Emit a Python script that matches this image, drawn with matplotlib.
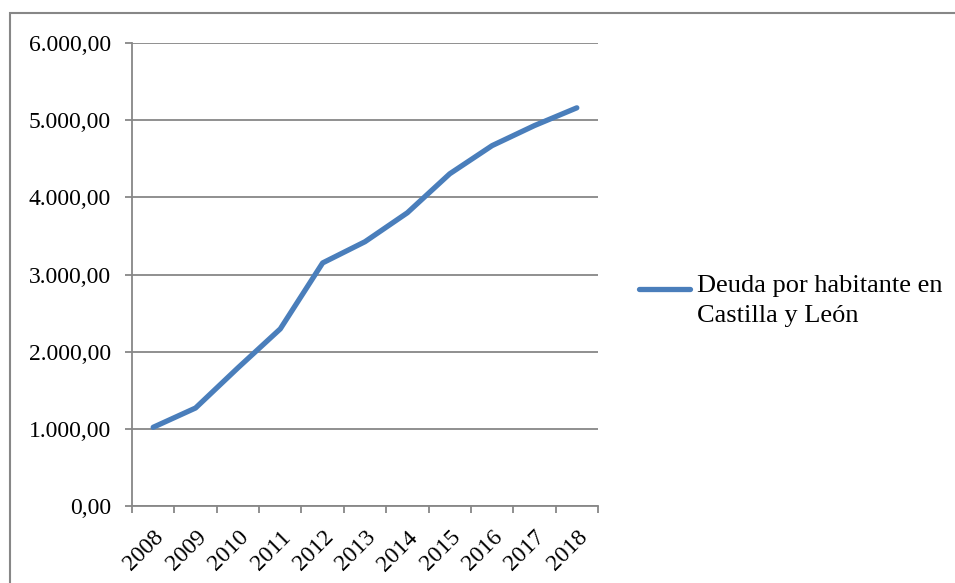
import matplotlib
matplotlib.use("Agg")
import matplotlib.pyplot as plt
import numpy as np
from matplotlib.lines import Line2D
from matplotlib.patches import Rectangle
from matplotlib.ticker import FuncFormatter, FixedLocator
from matplotlib.transforms import ScaledTranslation

plt.rcParams['font.family'] = ['Liberation Serif', 'DejaVu Serif']

# Data
years = ['2008', '2009', '2010', '2011', '2012', '2013', '2014', '2015', '2016', '2017', '2018']
deuda = [1020, 1270, 1790, 2295, 3150, 3425, 3800, 4305, 4670, 4930, 5160]
serie_label = 'Deuda por habitante en\nCastilla y León'

# Style
line_color = '#4a7ebb'
grid_color = '#878787'
fs = 17
fs_leg = 19

def es_fmt(v, pos):
    s = f"{v:,.2f}"
    return s.replace(',', 'X').replace('.', ',').replace('X', '.')

fig = plt.figure(figsize=(9.55, 5.83), dpi=100)
ax = fig.add_axes([132/955, 1 - 506/583, 466/955, 463/583])

x = np.arange(len(years))
ax.plot(x, deuda, color=line_color, lw=3.8, solid_capstyle='round', solid_joinstyle='round')

ax.set_xlim(-0.5, len(years) - 0.5)
ax.set_ylim(0, 6000)
ax.set_yticks(np.arange(0, 6001, 1000))
ax.yaxis.set_major_formatter(FuncFormatter(es_fmt))
ax.yaxis.grid(True, color=grid_color, lw=1.3)
ax.set_axisbelow(True)

ax.set_xticks(x)
ax.set_xticklabels(years, rotation=45, ha='right', rotation_mode='anchor')
shift = ScaledTranslation(-5/72, 0, fig.dpi_scale_trans)
for lbl in ax.get_xticklabels():
    lbl.set_transform(lbl.get_transform() + shift)
ax.xaxis.set_minor_locator(FixedLocator(np.arange(-0.5, len(years), 1)))
ax.tick_params(axis='x', which='major', length=0, pad=15, labelsize=fs)
ax.tick_params(axis='x', which='minor', length=5, width=1.3, color=grid_color)
ax.tick_params(axis='y', length=5, width=1.3, color=grid_color, pad=10, labelsize=fs)

for side in ['top', 'right']:
    ax.spines[side].set_visible(False)
for side in ['left', 'bottom']:
    ax.spines[side].set_color(grid_color)
    ax.spines[side].set_linewidth(1.3)

# Legend drawn by hand (handle aligned with first text line)
fig.add_artist(Line2D([639/955, 690/955], [1 - 289/583] * 2, color=line_color, lw=3.8,
                      solid_capstyle='round'))
fig.text(697/955, 1 - 275/583, serie_label, fontsize=fs_leg, va='top', ha='left', linespacing=1.45)

# Outer chart border
fig.add_artist(Rectangle((10/955, -0.1), 2, 1.1 - 13/583, transform=fig.transFigure,
                         fill=False, edgecolor=grid_color, lw=1.5))

fig.savefig('out.png', dpi=100)
